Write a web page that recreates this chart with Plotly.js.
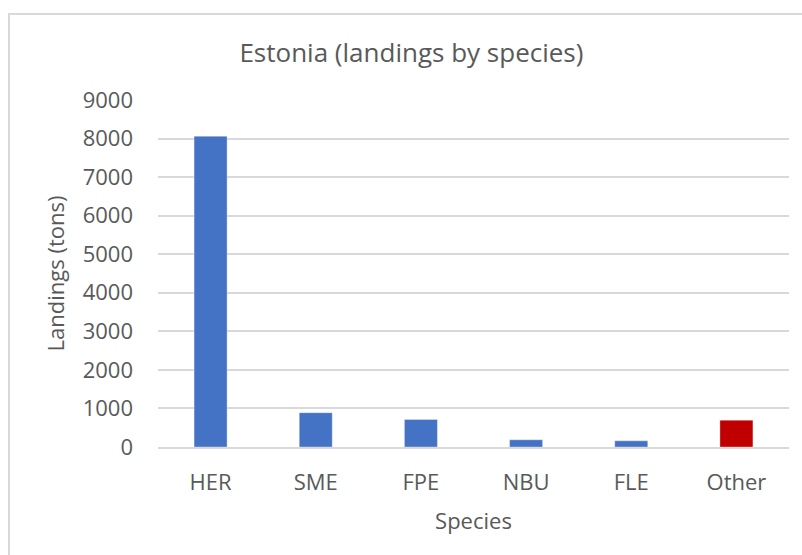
<!DOCTYPE html>
<html>
<head>
<meta charset="utf-8">
<script src="https://cdn.plot.ly/plotly-3.0.1.min.js"></script>
<style>
html,body{margin:0;padding:0;background:#fff;}
#wrap{position:relative;width:802px;height:555px;}
#frame{position:absolute;left:8px;top:13px;right:0;bottom:0;border-left:2px solid #d9d9d9;border-top:2px solid #d9d9d9;pointer-events:none;}
#chart{position:absolute;left:0;top:0;width:802px;height:555px;}
</style>
</head>
<body>
<div id="wrap"><div id="chart"></div><div id="frame"></div></div>
<script>
const species = ["HER", "SME", "FPE", "NBU", "FLE", "Other"];
const landings = [8060, 890, 715, 187, 160, 696];
const yTicks = [0, 1000, 2000, 3000, 4000, 5000, 6000, 7000, 8000, 9000];

const barColors = species.map(s => s === "Other" ? "#C00000" : "#4472C4");
const textColor = "#595959";
const font = "Open Sans, Noto Sans, sans-serif";

Plotly.newPlot("chart", [{
  type: "bar",
  x: species,
  y: landings,
  marker: {color: barColors, line: {color: "rgba(255,255,255,0.35)", width: 1}},
  hoverinfo: "x+y"
}], {
  width: 802, height: 555,
  margin: {l: 158, r: 13, t: 100, b: 108},
  paper_bgcolor: "rgba(0,0,0,0)",
  plot_bgcolor: "rgba(0,0,0,0)",
  bargap: 0.686,
  showlegend: false,
  font: {family: font, color: textColor},
  title: {text: "Estonia (landings by species)", font: {size: 26, color: textColor, family: font}, x: 0.513, xanchor: "center", y: 0.905, yanchor: "middle"},
  xaxis: {
    type: "category",
    showgrid: false, zeroline: false, showline: true, linecolor: "#d9d9d9", linewidth: 2,
    ticks: "", tickfont: {size: 22, color: textColor},
    ticklabelstandoff: 15,
    title: {text: "Species", font: {size: 22, color: textColor}, standoff: 18}
  },
  yaxis: {
    range: [0, 9000],
    tickvals: yTicks,
    ticktext: yTicks.map(String),
    showgrid: true, gridcolor: "#d9d9d9", gridwidth: 2,
    zeroline: false, showline: false,
    ticks: "", tickfont: {size: 22, color: textColor},
    ticklabelstandoff: 24,
    title: {text: "Landings (tons)", font: {size: 22, color: textColor}, standoff: 11}
  }
}, {displayModeBar: false, staticPlot: true});
</script>
</body>
</html>
